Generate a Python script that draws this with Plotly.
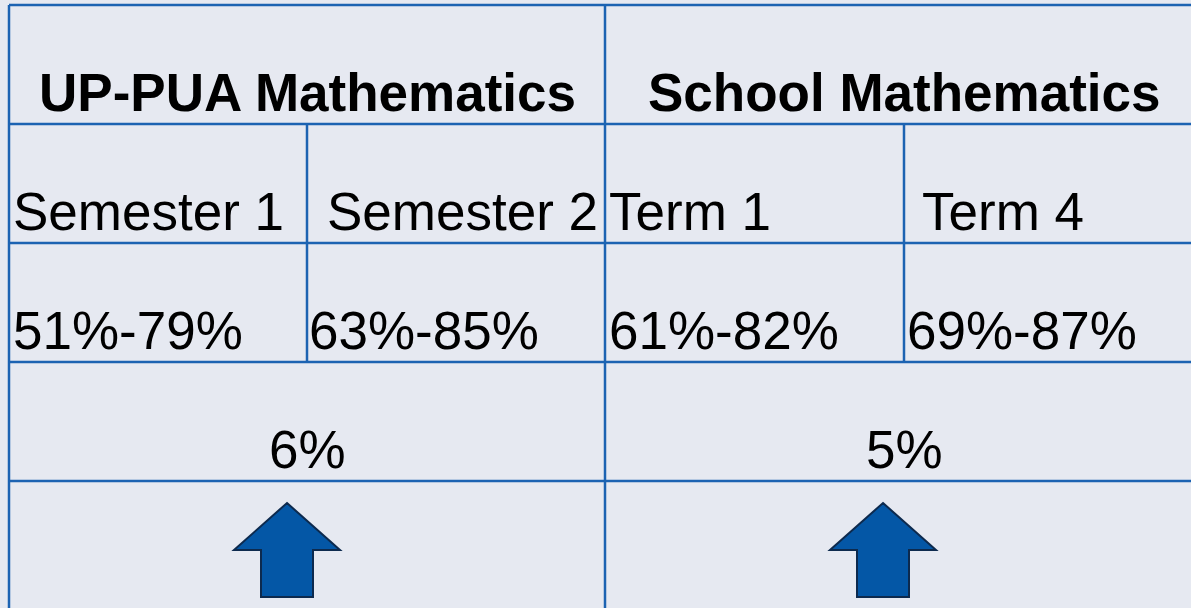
import plotly.graph_objects as go

# ---- data ----
groups = ["UP-PUA Mathematics", "School Mathematics"]
periods = ["Semester 1", "Semester 2", "Term 1", "Term 4"]
ranges = ["51%-79%", "63%-85%", "61%-82%", "69%-87%"]
improvements = ["6%", "5%"]

# ---- layout geometry (pixels) ----
W, H = 1191, 608
BG = "#e6e9f1"
LINE = "#1c63b2"
FONT = "Liberation Sans, Arial, sans-serif"
FS = 53

row_lines = [5, 124, 243, 362, 481]
left_x, mid_x = 9, 605
sub_x = [307, 904]
group_cx = [307, 904]
period_x = [11, 325, 607, 920]
range_x = [11, 307, 607, 905]

fig = go.Figure()

# table lines
shapes = []
for y in row_lines:
    shapes.append(dict(type="line", x0=left_x, x1=W + 5, y0=y, y1=y,
                       xref="x", yref="y", line=dict(color=LINE, width=2.5)))
shapes.append(dict(type="line", x0=left_x, x1=left_x, y0=row_lines[0], y1=H + 5,
                   xref="x", yref="y", line=dict(color=LINE, width=2.5)))
shapes.append(dict(type="line", x0=mid_x, x1=mid_x, y0=row_lines[0], y1=H + 5,
                   xref="x", yref="y", line=dict(color=LINE, width=2.5)))
for sx in sub_x:
    shapes.append(dict(type="line", x0=sx, x1=sx, y0=row_lines[1], y1=row_lines[3],
                       xref="x", yref="y", line=dict(color=LINE, width=2.5)))

# up arrows
def arrow(cx):
    tip_y, head_y, bot_y = 503, 550, 597
    hw, sw = 53, 26
    pts = [(cx, tip_y), (cx + hw, head_y), (cx + sw, head_y), (cx + sw, bot_y),
           (cx - sw, bot_y), (cx - sw, head_y), (cx - hw, head_y)]
    return "M " + " L ".join(f"{x},{y}" for x, y in pts) + " Z"

for cx in [287, 883]:
    shapes.append(dict(type="path", path=arrow(cx), xref="x", yref="y",
                       fillcolor="#0457a6", line=dict(color="#0d2a4e", width=2)))

fig.update_layout(shapes=shapes)

ann = []
for g, cx in zip(groups, group_cx):
    ann.append(dict(text=f"<b>{g}</b>", x=cx, y=row_lines[1], xanchor="center",
                    yanchor="bottom"))
for p, px in zip(periods, period_x):
    ann.append(dict(text=p, x=px, y=row_lines[2], xanchor="left", yanchor="bottom"))
for r, rx in zip(ranges, range_x):
    ann.append(dict(text=r, x=rx, y=row_lines[3], xanchor="left", yanchor="bottom"))
for imp, cx in zip(improvements, group_cx):
    ann.append(dict(text=imp, x=cx, y=row_lines[4], xanchor="center", yanchor="bottom"))
for a in ann:
    a.update(xref="x", yref="y", showarrow=False,
             font=dict(family=FONT, size=FS, color="black"))
fig.update_layout(annotations=ann)

fig.update_layout(
    width=W, height=H,
    margin=dict(l=0, r=0, t=0, b=0),
    paper_bgcolor=BG, plot_bgcolor=BG,
    xaxis=dict(range=[0, W], visible=False, fixedrange=True),
    yaxis=dict(range=[H, 0], visible=False, fixedrange=True),
    showlegend=False,
)

fig.write_html(
    "out.html",
    config={"displayModeBar": False},
    post_script="document.body.style.margin='0';document.body.style.background='%s';" % BG,
)
